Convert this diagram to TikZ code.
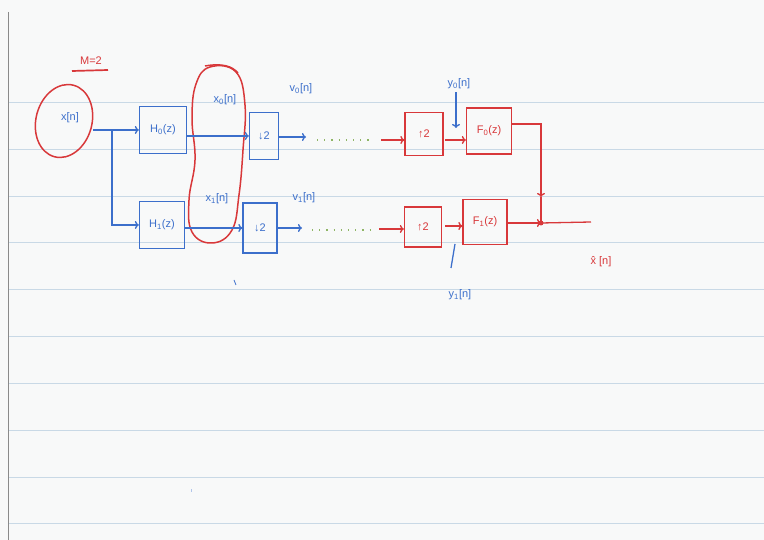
\documentclass[tikz,border=0pt]{standalone}
\usepackage{fontspec}
\setsansfont{Liberation Sans}
\usetikzlibrary{arrows.meta,calc,shapes.geometric}
\definecolor{paper}{HTML}{F8F9F9}
\definecolor{rule}{HTML}{C9D9E6}
\definecolor{margin}{HTML}{8A8A8A}
\definecolor{pen}{HTML}{3C6FCB}
\definecolor{ink}{HTML}{D8383A}
\definecolor{dots}{HTML}{8FB565}
\newcommand{\idx}[1]{\textsubscript{#1}}
\begin{document}
\begin{tikzpicture}[x=1pt,y=-1pt,
  lbl/.style={font=\sffamily\fontsize{11}{12}\selectfont, inner sep=1pt},
  bbox/.style={draw=pen, line width=1.3pt, minimum width=#1, inner sep=0pt, font=\sffamily\fontsize{11}{12}\selectfont, text=pen},
  rbox/.style={draw=ink, line width=1.3pt, minimum width=#1, inner sep=0pt, font=\sffamily\fontsize{11}{12}\selectfont, text=ink},
  barr/.style={draw=pen, line width=1.3pt, -{To[length=4pt,width=8pt]}},
  rarr/.style={draw=ink, line width=1.3pt, -{To[length=4pt,width=8pt]}},
  rline/.style={draw=ink, line width=1.3pt},
  bline/.style={draw=pen, line width=1.3pt},
  ring/.style={draw=ink, line width=1.5pt},
  dotline/.style={draw=dots, line width=1.3pt, dash pattern=on 1.2pt off 6pt}]

% lined paper
\fill[paper] (0,0) rectangle (764,540);
\useasboundingbox (0,0) rectangle (764,540);
\foreach \yy in {103,150,197,243,290,337,384,430,477,523}
  \draw[rule, line width=1pt] (8,\yy) -- (764,\yy);
\draw[margin, line width=0.8pt] (8,12) -- (8,540);

% heading
\node[lbl, text=ink] (mlabel) at (91,61) {M=2};
\draw[rline, line width=1.7pt] (72,71) -- (108,70);

% input
\node[lbl, text=pen] (xin) at (70,118) {x[n]};
\draw[ring, rotate around={-15:(64,121)}] (64,121) ellipse [x radius=28, y radius=37];
\coordinate (xo) at (93,130);
\coordinate (br) at (112,130);

% analysis filters
\node[bbox=47pt, minimum height=47pt] (h0) at (163,130) {H\idx{0}(z)};
\node[bbox=45pt, minimum height=47pt] (h1) at (162,225) {H\idx{1}(z)};
\draw[barr] (xo) -- (xo -| h0.west);
\draw[barr] (br) |- (h1.west);

% sub-band signals grouped together
\node[lbl, text=pen] (x0) at (225,100) {x\idx{0}[n]};
\node[lbl, text=pen] (x1) at (217,199) {x\idx{1}[n]};
\draw[ring] plot[smooth cycle, tension=0.7] coordinates {
  (210,67) (236,72) (245,105) (243,150) (239,195) (232,230)
  (212,243) (192,232) (189,200) (195,160) (192,118) (196,84)};
\draw[ring] (205,66) .. controls (222,63) and (232,66) .. (238,73);

% decimators
\node[bbox=29pt, minimum height=47pt] (d0) at (264,136) {↓2};
\node[bbox=34pt, minimum height=50pt] (d1) at (260,228) {↓2};
\draw[barr] (h0.east |- d0.west) -- (d0.west);
\draw[barr] (h1.east |- d1.west) -- (d1.west);

% down-sampled outputs and channel
\coordinate (v0a) at (306,137);
\coordinate (v1a) at (302,228);
\node[lbl, text=pen] (v0) at (301,89) {v\idx{0}[n]};
\node[lbl, text=pen] (v1) at (304,198) {v\idx{1}[n]};
\draw[barr] (d0.east |- v0a) -- (v0a);
\draw[barr] (d1.east |- v1a) -- (v1a);
\coordinate (g0s) at (317,140);
\coordinate (g0e) at (372,140);
\coordinate (g1s) at (312,230);
\coordinate (g1e) at (372,230);
\draw[dotline] (g0s) -- (g0e);
\draw[dotline] (g1s) -- (g1e);
\coordinate (r0) at (381,140);
\coordinate (r1) at (379,229);

% expanders
\node[rbox=38pt, minimum height=43pt] (u0) at (424,134) {↑2};
\node[rbox=37pt, minimum height=40pt] (u1) at (423,227) {↑2};
\draw[rarr] (r0) -- (r0 -| u0.west);
\draw[rarr] (r1) -- (r1 -| u1.west);

% synthesis filters
\node[rbox=45pt, minimum height=46pt] (f0) at (489,131) {F\idx{0}(z)};
\node[rbox=44pt, minimum height=45pt] (f1) at (485,222) {F\idx{1}(z)};
\coordinate (p0) at (445,140);
\coordinate (p1) at (445,226);
\draw[rarr] (p0) -- (p0 -| f0.west);
\draw[rarr] (p1) -- (p1 -| f1.west);

% expander outputs
\node[lbl, text=pen] (y0) at (459,84) {y\idx{0}[n]};
\coordinate (y0t) at (456,128);
\draw[barr] (y0.south) ++(-3,2) -- (y0t);
\node[lbl, text=pen] (y1) at (460,295) {y\idx{1}[n]};
\coordinate (y1a) at (451,268);
\coordinate (y1b) at (455,244);
\draw[bline] (y1a) -- (y1b);

% summation and output
\coordinate (j) at (541,223);
\coordinate (jm) at (541,197);
\coordinate (f0o) at (512,124);
\draw[rarr] (f0o) -| (jm);
\draw[rline] (jm) -- (j);
\draw[rarr] (f1.east |- j) -- (j);
\fill[ink] (j) circle (2.5pt);
\coordinate (xout) at (591,222);
\draw[rline] (j) -- (xout);
\node[lbl, text=ink] (xhat) at (601,262) {\^x [n]};

% stray pen marks
\draw[bline, line width=0.8pt] (234,280) -- (236,285);
\draw[draw=pen!40, line width=0.5pt] (191,489) -- (191,492);
\end{tikzpicture}
\end{document}
